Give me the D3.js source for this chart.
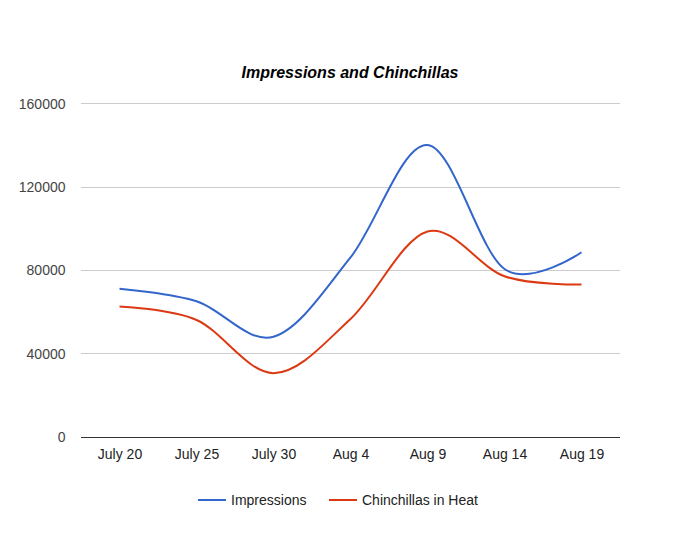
<!DOCTYPE html>
<html><head><meta charset="utf-8">
<script src="https://cdn.jsdelivr.net/npm/d3@7"></script>
<style>body{margin:0;background:#fff}svg{display:block}</style>
</head><body>
<script>
const categories = ["July 20","July 25","July 30","Aug 4","Aug 9","Aug 14","Aug 19"];
const impressions = [71000, 65000, 48000, 86000, 140000, 80500, 88500];
const chinchillas = [62500, 56000, 30500, 56500, 98500, 77000, 73000];
const yTicks = [0, 40000, 80000, 120000, 160000];
const seriesNames = ["Impressions", "Chinchillas in Heat"];
const colors = ["#3366cc", "#dc3912"];

(function () {
const W = 699, H = 539;
const mLeft = 81, mRight = 620, mTop = 103.3, mBottom = 436.7;
const font = "'Liberation Sans', Arial, sans-serif";
const fs = 14;

const svg = d3.select("body").append("svg").attr("width", W).attr("height", H);

const x = d3.scalePoint().domain(categories).range([mLeft, mRight]).padding(0.5);
const y = d3.scaleLinear().domain([0, 160000]).range([mBottom, mTop]);

// title
svg.append("text").attr("x", 350).attr("y", 78).attr("text-anchor", "middle")
  .attr("font-family", font).attr("font-size", 16).attr("font-weight", "bold")
  .attr("font-style", "italic").attr("fill", "#000").text("Impressions and Chinchillas");

// gridlines
svg.append("g").selectAll("line").data(yTicks.filter(d => d !== 0)).join("line")
  .attr("x1", mLeft).attr("x2", mRight)
  .attr("y1", d => Math.round(y(d)) + 0.5).attr("y2", d => Math.round(y(d)) + 0.5)
  .attr("stroke", "#cccccc").attr("stroke-width", 1);

// y labels
const yAxis = d3.axisLeft(y).tickValues(yTicks).tickSize(0).tickPadding(0).tickFormat(d3.format("d"));
const gy = svg.append("g").attr("transform", `translate(${65.5},0)`).call(yAxis);
gy.select(".domain").remove();
gy.selectAll("text").attr("font-family", font).attr("font-size", fs).attr("fill", "#444").attr("dy", "0.35em");

// x labels
const xAxis = d3.axisBottom(x).tickSize(0).tickPadding(0);
const gx = svg.append("g").attr("transform", `translate(0,${mBottom})`).call(xAxis);
gx.select(".domain").remove();
gx.selectAll("text").attr("font-family", font).attr("font-size", fs).attr("fill", "#222").attr("dy", "0").attr("y", 22);

// lines
const line = d3.line().x((d, i) => x(categories[i])).y(d => y(d)).curve(d3.curveCardinal.tension(0));
[impressions, chinchillas].forEach((s, k) => {
  svg.append("path").datum(s).attr("d", line).attr("fill", "none")
    .attr("stroke", colors[k]).attr("stroke-width", 2);
});

// baseline
svg.append("line").attr("x1", mLeft).attr("x2", mRight)
  .attr("y1", Math.round(y(0)) + 0.5).attr("y2", Math.round(y(0)) + 0.5)
  .attr("stroke", "#333").attr("stroke-width", 1);

// legend
const legX = [198, 329];
seriesNames.forEach((n, k) => {
  svg.append("line").attr("x1", legX[k]).attr("x2", legX[k] + 28).attr("y1", 500).attr("y2", 500)
    .attr("stroke", colors[k]).attr("stroke-width", 2);
  svg.append("text").attr("x", legX[k] + 33).attr("y", 505).attr("font-family", font)
    .attr("font-size", fs).attr("fill", "#222").text(n);
});
})();
</script>
</body></html>
